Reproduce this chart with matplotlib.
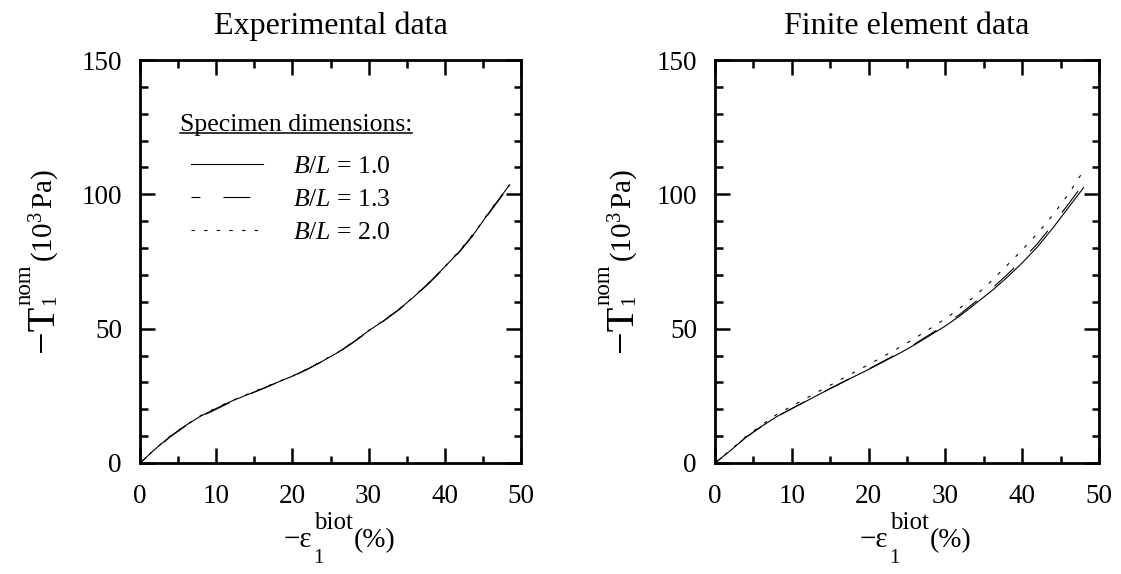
import matplotlib
matplotlib.use("Agg")
import matplotlib.pyplot as plt
from matplotlib.ticker import MultipleLocator

plt.rcParams["font.family"] = "Liberation Serif"
plt.rcParams["mathtext.fontset"] = "custom"
plt.rcParams["mathtext.rm"] = "Liberation Serif"
plt.rcParams["mathtext.it"] = "Liberation Serif:italic"
plt.rcParams["mathtext.bf"] = "Liberation Serif:bold"
plt.rcParams["lines.scale_dashes"] = False

# experimental data
exp_x = [0, 2, 4, 6, 8, 10, 12, 14, 16, 18, 20, 22, 24, 26, 28, 30, 32, 34, 36, 38, 40, 42, 44, 46, 48.5]
exp_10 = [0, 5.2, 10, 14, 17.5, 20.3, 23, 25.3, 27.6, 30, 32.3, 35, 38, 41.2, 45, 49.2, 53, 57.2, 62, 67.3, 73, 79, 86, 94, 103.5]
exp_13 = [0, 5.0, 9.8, 13.8, 17.3, 20.0, 22.8, 25.2, 27.5, 29.9, 32.2, 34.9, 37.9, 41.1, 44.9, 49.0, 52.9, 57.1, 61.8, 67.1, 72.8, 78.8, 85.7, 93.7, 103.2]
exp_20 = [0, 5.3, 10.1, 14.1, 17.7, 20.5, 23.2, 25.5, 27.8, 30.1, 32.4, 35.1, 38.1, 41.3, 45.1, 49.3, 53.1, 57.3, 62.1, 67.4, 73.1, 79.2, 86.2, 94.2, 103.6]

# finite element data
fe_x = [0, 2, 4, 6, 8, 10, 12, 14, 16, 18, 20, 22, 24, 26, 28, 30, 32, 34, 36, 38, 40, 42, 44, 46, 48]
fe_10 = [0, 4.6, 9.5, 13.5, 17.2, 20.2, 23.2, 26.2, 29.1, 32, 34.8, 37.8, 40.8, 44, 47.5, 51, 55, 59.5, 64, 69, 74.5, 80.5, 87.5, 95, 102.5]
fe_13 = [0, 4.6, 9.5, 13.5, 17.2, 20.3, 23.3, 26.3, 29.2, 32.1, 35.0, 38.0, 41.1, 44.3, 47.9, 51.5, 55.6, 60.2, 64.8, 70, 75.6, 81.7, 88.8, 96.3, 104]
fe_20 = [0, 4.8, 9.8, 14, 18, 21.2, 24.3, 27.4, 30.5, 33.6, 36.6, 39.8, 43, 46.4, 50, 53.7, 57.9, 62.5, 67.8, 73.5, 79.3, 85.5, 92.3, 100, 108.8]

labels = [r"$B/L$ = 1.0", r"$B/L$ = 1.3", r"$B/L$ = 2.0"]
styles = ["-", (13, (19.4, 16.6)), (0, (2.4, 6.7))]

W, H = 1121, 574
fig = plt.figure(figsize=(W / 100, H / 100), dpi=100)
ax1 = fig.add_axes([140 / W, 111 / H, 381 / W, 403 / H])
ax2 = fig.add_axes([715 / W, 111 / H, 384 / W, 403 / H])

for ys, lab, st in zip([exp_10, exp_13, exp_20], labels, styles):
    ax1.plot(exp_x, ys, color="black", lw=0.8, ls=st, label=lab)
for ys, lab, st in zip([fe_10, fe_13, fe_20], labels, styles):
    ax2.plot(fe_x, ys, color="black", lw=0.8, ls=st, label=lab)

ax1.set_title("Experimental data", fontsize=23, pad=19)
ax2.set_title("Finite element data", fontsize=23, pad=19)

for ax in [ax1, ax2]:
    ax.set_xlim(0, 50)
    ax.set_ylim(0, 150)
    ax.xaxis.set_major_locator(MultipleLocator(10))
    ax.xaxis.set_minor_locator(MultipleLocator(5))
    ax.yaxis.set_major_locator(MultipleLocator(50))
    ax.yaxis.set_minor_locator(MultipleLocator(10))
    ax.tick_params(which="both", direction="in", top=True, right=True, width=1.8, labelsize=19.5)
    ax.tick_params(which="major", length=10.8)
    ax.tick_params(which="minor", length=5.4)
    ax.tick_params(axis="x", pad=15)
    ax.tick_params(axis="y", pad=13)
    for s in ax.spines.values():
        s.set_linewidth(2)

ax1.legend(loc="upper left", bbox_to_anchor=(0.134, 0.764), frameon=False, fontsize=18.5,
           handlelength=2.8, handletextpad=1.15, labelspacing=0.38, borderpad=0, borderaxespad=0)

r = fig.canvas.get_renderer()

# underlined legend heading
head = ax1.text(0.105, 0.825, "Specimen dimensions:", transform=ax1.transAxes, fontsize=18.5, va="baseline")
bb = head.get_window_extent(r)
inv = ax1.transAxes.inverted()
ux0 = inv.transform((bb.x0, 0))[0]
ux1 = inv.transform((bb.x1, 0))[0]
ax1.plot([ux0, ux1], [0.818, 0.818], transform=ax1.transAxes, color="black", lw=1.1, clip_on=False)


def xlabel_parts(x0, yb):
    t = fig.text(x0 / W, yb / H, "\u2212\u03b5", fontsize=21, va="baseline")
    xe = t.get_window_extent(r).x1 + 1
    ts = fig.text(xe / W, (yb - 16) / H, "1", fontsize=15, va="baseline")
    tp = fig.text(xe / W, (yb + 18) / H, "biot", fontsize=18, va="baseline")
    xe2 = max(ts.get_window_extent(r).x1, tp.get_window_extent(r).x1) + 1
    fig.text(xe2 / W, yb / H, "(%)", fontsize=20, va="baseline")


def ylabel_parts(xb, y0):
    kw = dict(rotation=90, rotation_mode="anchor", ha="left", va="baseline")
    t = fig.text(xb / W, y0 / H, "\u2212T", fontsize=29, **kw)
    ye = t.get_window_extent(r).y1
    ts = fig.text((xb + 2) / W, ye / H, "1", fontsize=15, **kw)
    tp = fig.text((xb - 22) / W, ye / H, "nom", fontsize=16.5, **kw)
    ye2 = max(ts.get_window_extent(r).y1, tp.get_window_extent(r).y1) + 2
    fig.text(xb / W, ye2 / H, r"$(10^3\,\mathrm{Pa})$", fontsize=21, **kw)


xlabel_parts(284, 27)
xlabel_parts(860, 27)
ylabel_parts(53, 222)
ylabel_parts(632, 222)

fig.savefig("out.png", dpi=100)
